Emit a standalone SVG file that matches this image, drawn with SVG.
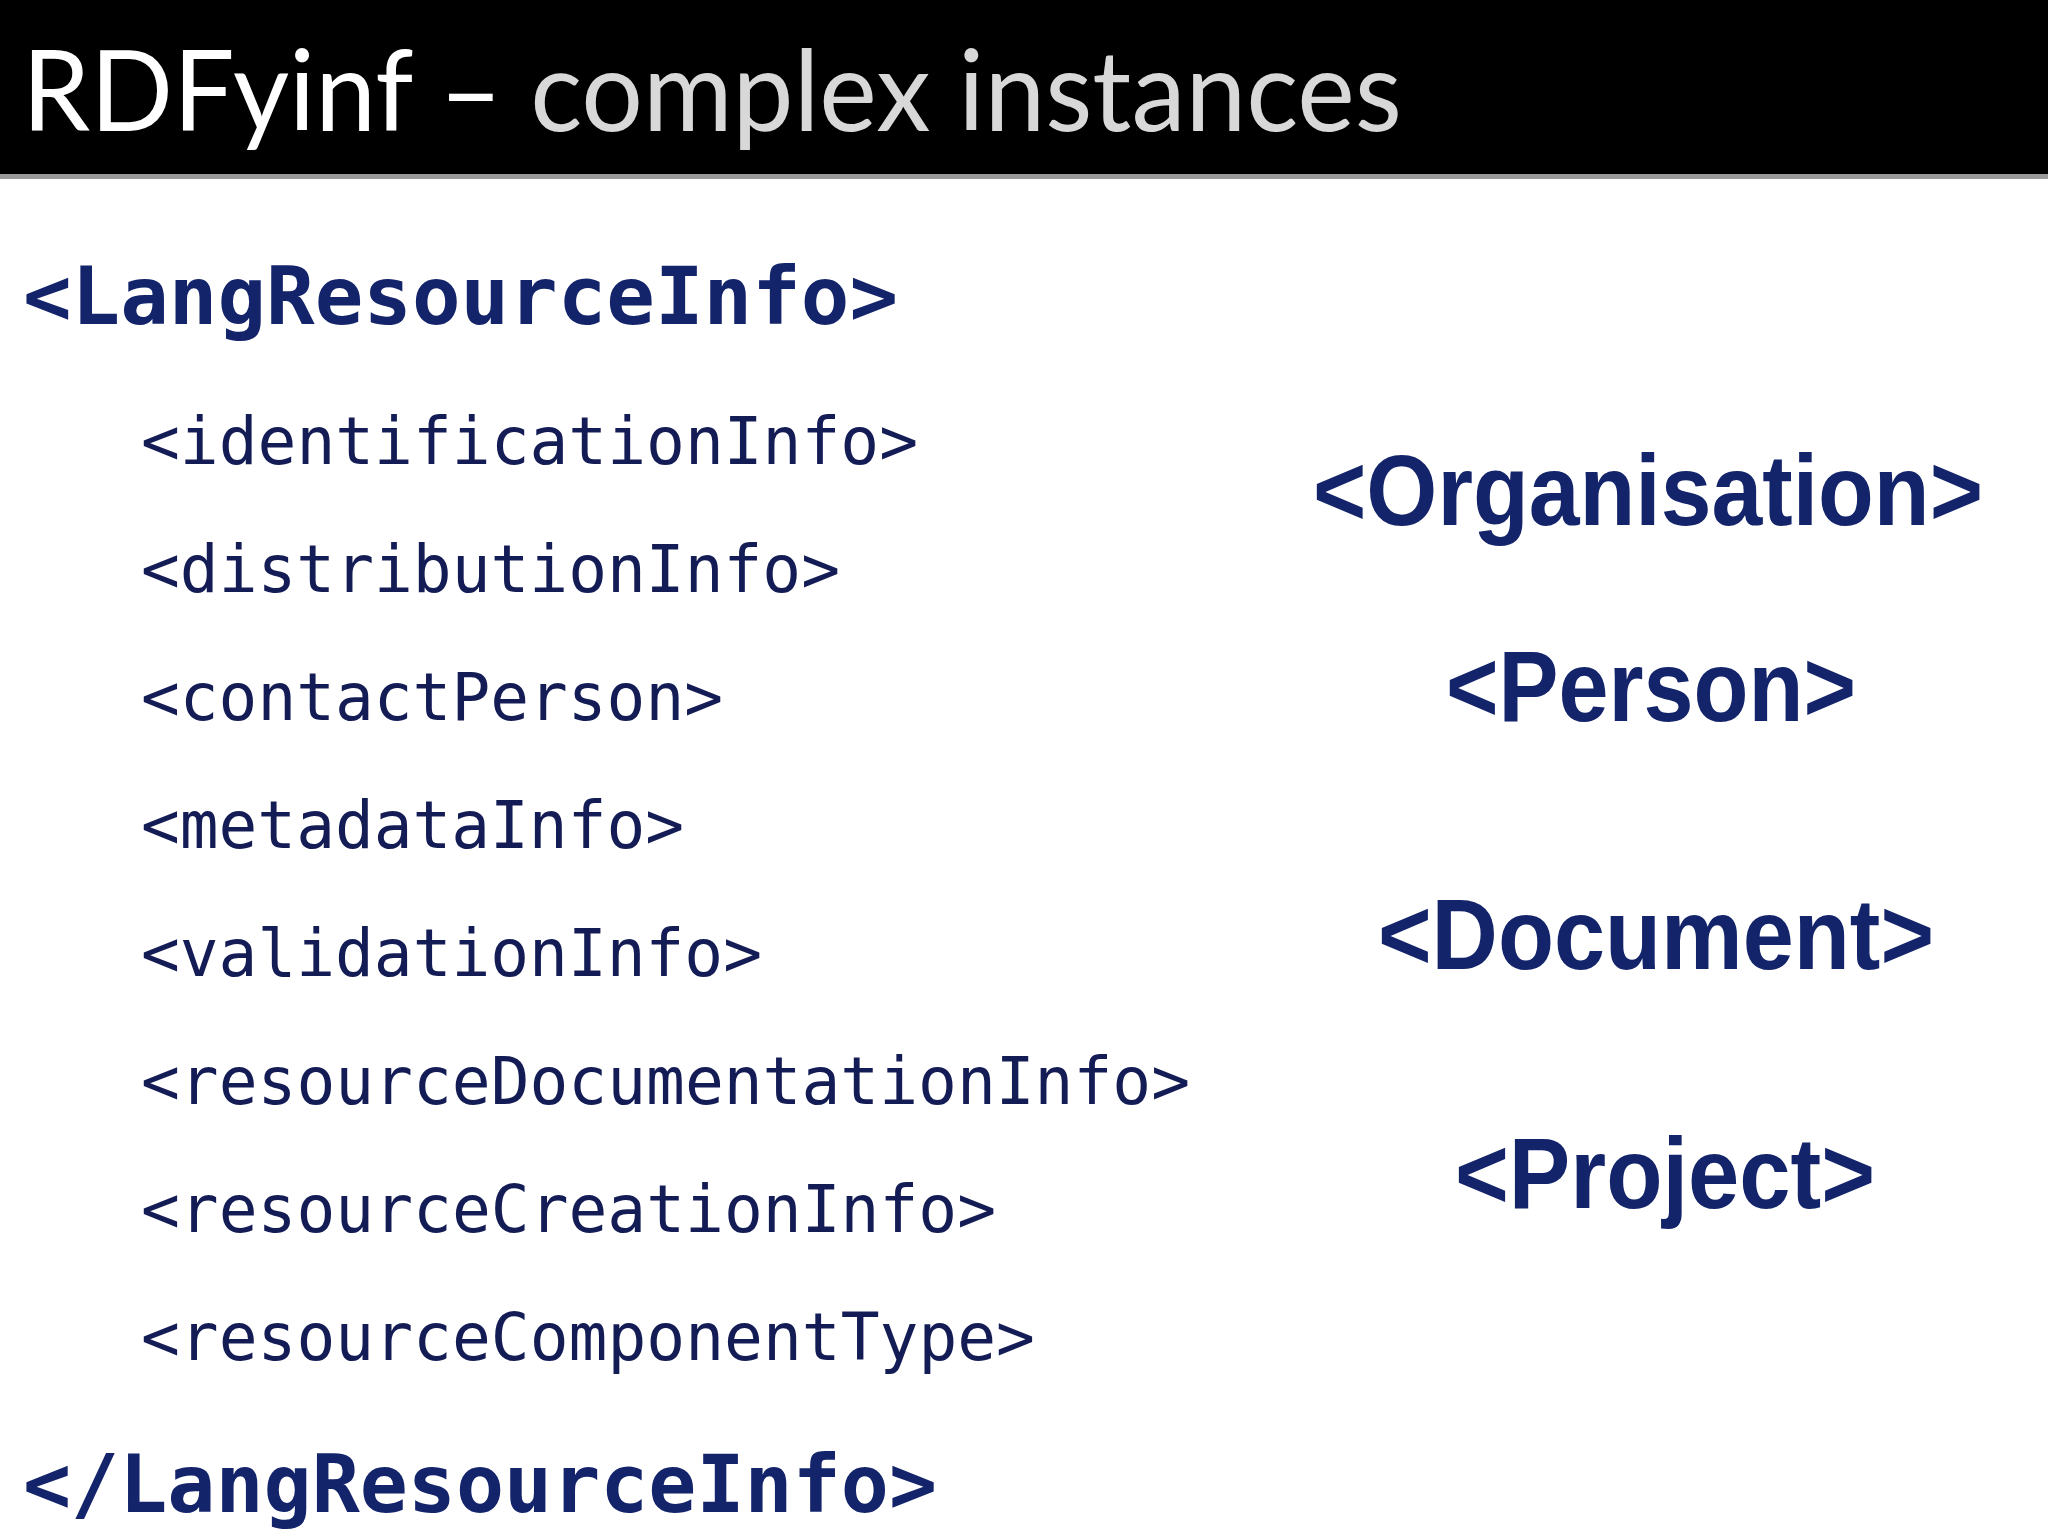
<svg xmlns="http://www.w3.org/2000/svg" width="2048" height="1536" viewBox="0 0 2048 1536">
<style>
.h{font-family:"DejaVu Sans Mono",monospace;font-weight:bold;font-size:81px;fill:#14246b}
.i{font-family:"DejaVu Sans Mono",monospace;font-size:65px;fill:#141c55}
.r{font-family:"Liberation Sans",Arial,sans-serif;font-weight:bold;font-size:100px;fill:#14246b;text-anchor:middle}
</style>
<rect x="0" y="0" width="2048" height="1536" fill="#ffffff"/>
<rect x="0" y="0" width="2048" height="174" fill="#000000"/>
<rect x="0" y="174" width="2048" height="5" fill="#9a9a9a"/>
<text x="22" y="131" font-family="Lato,'Open Sans',sans-serif" font-size="112" textLength="1380" lengthAdjust="spacingAndGlyphs"><tspan fill="#ffffff">RDFyinf – </tspan><tspan fill="#d8d8d8">complex instances</tspan></text>
<g id="open"><text class="h" x="23" y="324" textLength="875" lengthAdjust="spacingAndGlyphs">&lt;LangResourceInfo&gt;</text></g>
<g id="items">
<text class="i" x="141" y="464" textLength="777" lengthAdjust="spacingAndGlyphs">&lt;identificationInfo&gt;</text>
<text class="i" x="141" y="592" textLength="699" lengthAdjust="spacingAndGlyphs">&lt;distributionInfo&gt;</text>
<text class="i" x="141" y="720" textLength="582" lengthAdjust="spacingAndGlyphs">&lt;contactPerson&gt;</text>
<text class="i" x="141" y="848" textLength="543" lengthAdjust="spacingAndGlyphs">&lt;metadataInfo&gt;</text>
<text class="i" x="141" y="976" textLength="621" lengthAdjust="spacingAndGlyphs">&lt;validationInfo&gt;</text>
<text class="i" x="141" y="1104" textLength="1049" lengthAdjust="spacingAndGlyphs">&lt;resourceDocumentationInfo&gt;</text>
<text class="i" x="141" y="1232" textLength="855" lengthAdjust="spacingAndGlyphs">&lt;resourceCreationInfo&gt;</text>
<text class="i" x="141" y="1360" textLength="894" lengthAdjust="spacingAndGlyphs">&lt;resourceComponentType&gt;</text>
</g>
<g id="close"><text class="h" x="23" y="1512" textLength="914" lengthAdjust="spacingAndGlyphs">&lt;/LangResourceInfo&gt;</text></g>
<g id="organisation"><text class="r" x="1648" y="525" textLength="670" lengthAdjust="spacingAndGlyphs">&lt;Organisation&gt;</text></g>
<g id="person"><text class="r" x="1651" y="721" textLength="410" lengthAdjust="spacingAndGlyphs">&lt;Person&gt;</text></g>
<g id="document"><text class="r" x="1656" y="969" textLength="556" lengthAdjust="spacingAndGlyphs">&lt;Document&gt;</text></g>
<g id="project"><text class="r" x="1665" y="1208" textLength="420" lengthAdjust="spacingAndGlyphs">&lt;Project&gt;</text></g>
<g id="connectors"/>
</svg>
